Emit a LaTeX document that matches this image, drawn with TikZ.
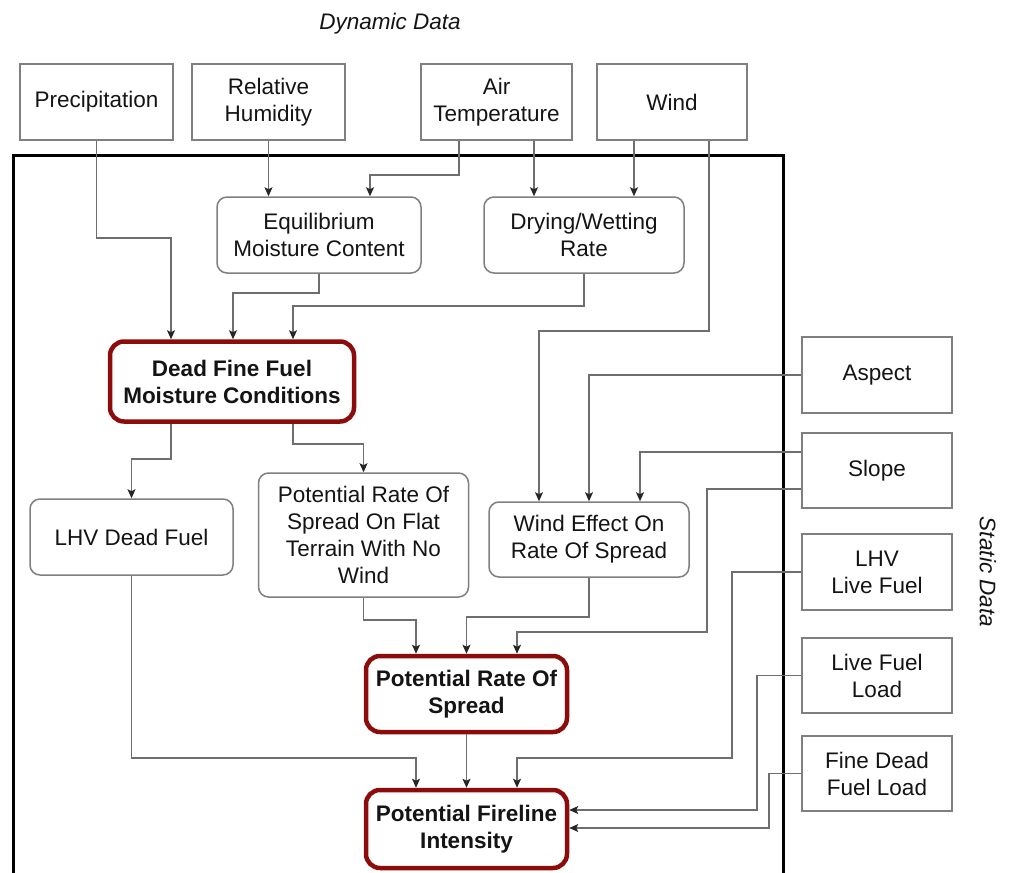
\documentclass[tikz,border=0pt]{standalone}
\usepackage{fontspec}
\setmainfont{Liberation Sans}
\usetikzlibrary{arrows.meta}
\definecolor{boxgray}{HTML}{7F7F7F}
\definecolor{linegray}{HTML}{6E6E6E}
\definecolor{fireRed}{HTML}{8C0C0C}
\definecolor{txt}{HTML}{141414}
\begin{document}
\begin{tikzpicture}[x=1pt,y=-1pt,
  every node/.style={font=\fontsize{22.5}{27}\selectfont, text=txt, align=center, inner sep=0pt},
  databox/.style={draw=boxgray, line width=1.5pt, rectangle},
  procbox/.style={draw=boxgray, line width=1.5pt, rectangle, rounded corners=10pt},
  keybox/.style={draw=fireRed, line width=4.5pt, rectangle, rounded corners=14pt, font=\fontsize{22.5}{27}\selectfont\bfseries},
  conn/.style={draw=linegray, line width=1.3pt, -{Stealth[length=9pt,width=8pt,inset=2pt,color=black!85]}},
  plain/.style={draw=linegray, line width=1.3pt}
]
\useasboundingbox (0,0) rectangle (1011,872);

% frame
\draw[line width=3pt, black] (13,900) -- (13,155) -- (783,155) -- (783,900);

% titles
\node (dyn) at (390,24) {\itshape Dynamic Data};
\node[rotate=-90] (stat) at (988,572) {\itshape Static Data};

% dynamic data
\node[databox, minimum width=153pt, minimum height=76pt] (prec) at (96.5,102) {Precipitation};
\node[databox, minimum width=153pt, minimum height=76pt] (rh) at (268.5,102) {Relative\\Humidity};
\node[databox, minimum width=151pt, minimum height=76pt] (air) at (496.5,102) {Air\\Temperature};
\node[databox, minimum width=150pt, minimum height=76pt] (wind) at (672,102) {Wind};

% static data
\node[databox, minimum width=150pt, minimum height=76pt] (aspect) at (877,375) {Aspect};
\node[databox, minimum width=150pt, minimum height=75pt] (slope) at (877,470.5) {Slope};
\node[databox, minimum width=150pt, minimum height=76pt] (lhvl) at (877,572) {LHV\\Live Fuel};
\node[databox, minimum width=150pt, minimum height=75pt] (lfl) at (877,675.5) {Live Fuel\\Load};
\node[databox, minimum width=150pt, minimum height=75pt] (fdfl) at (877,773.5) {Fine Dead\\Fuel Load};

% processes
\node[procbox, minimum width=204pt, minimum height=76pt] (emc) at (319,235) {Equilibrium\\Moisture Content};
\node[procbox, minimum width=200pt, minimum height=76pt] (dwr) at (584,235) {Drying/Wetting\\Rate};
\node[keybox, minimum width=244pt, minimum height=80pt] (dffmc) at (232,381.5) {Dead Fine Fuel\\Moisture Conditions};
\node[procbox, minimum width=203pt, minimum height=76pt] (lhvd) at (131.5,537) {LHV Dead Fuel};
\node[procbox, minimum width=210pt, minimum height=124pt] (prsft) at (363.5,535) {Potential Rate Of\\Spread On Flat\\Terrain With No\\Wind};
\node[procbox, minimum width=200pt, minimum height=75pt] (weros) at (589,539.5) {Wind Effect On\\Rate Of Spread};
\node[keybox, minimum width=201pt, minimum height=76pt] (prs) at (466.5,694) {Potential Rate Of\\Spread};
\node[keybox, minimum width=201pt, minimum height=78pt] (pfi) at (466.5,829) {Potential Fireline\\Intensity};

% connectors
\draw[conn] (prec.south) |- (171,238) -- (171,0 |- dffmc.north);
\draw[conn] (rh.south) -- (rh.south |- emc.north);
\draw[conn] (459,0 |- air.south) |- (370,175) -- (370,0 |- emc.north);
\draw[conn] (534,0 |- air.south) -- (534,0 |- dwr.north);
\draw[conn] (634,0 |- wind.south) -- (634,0 |- dwr.north);
\draw[conn] (709,0 |- wind.south) |- (539,331) -- (539,0 |- weros.north);
\draw[conn] (emc.south) |- (233,293) -- (233,0 |- dffmc.north);
\draw[conn] (dwr.south) |- (293,306) -- (293,0 |- dffmc.north);
\draw[conn] (171,0 |- dffmc.south) |- (131.5,459) -- (lhvd.north);
\draw[conn] (293,0 |- dffmc.south) |- (363.5,444) -- (prsft.north);
\draw[conn] (aspect.west) -| (weros.north);
\draw[conn] (slope.west |- 0,452) -| (640,0 |- weros.north);
\draw[conn] (slope.west |- 0,489) -| (707,632) -| (517,0 |- prs.north);
\draw[conn] (weros.south) |- (466.5,617) -- (prs.north);
\draw[conn] (prsft.south) |- (416,620) -- (416,0 |- prs.north);
\draw[conn] (lhvl.west) -| (732,758) -| (517,0 |- pfi.north);
\draw[conn] (lfl.west) -| (757,810) -- (pfi.east |- 0,810);
\draw[conn] (fdfl.west) -| (769,828) -- (pfi.east |- 0,828);
\draw[conn] (lhvd.south) |- (416,758) -- (416,0 |- pfi.north);
\draw[conn] (prs.south) -- (pfi.north);
\end{tikzpicture}
\end{document}
